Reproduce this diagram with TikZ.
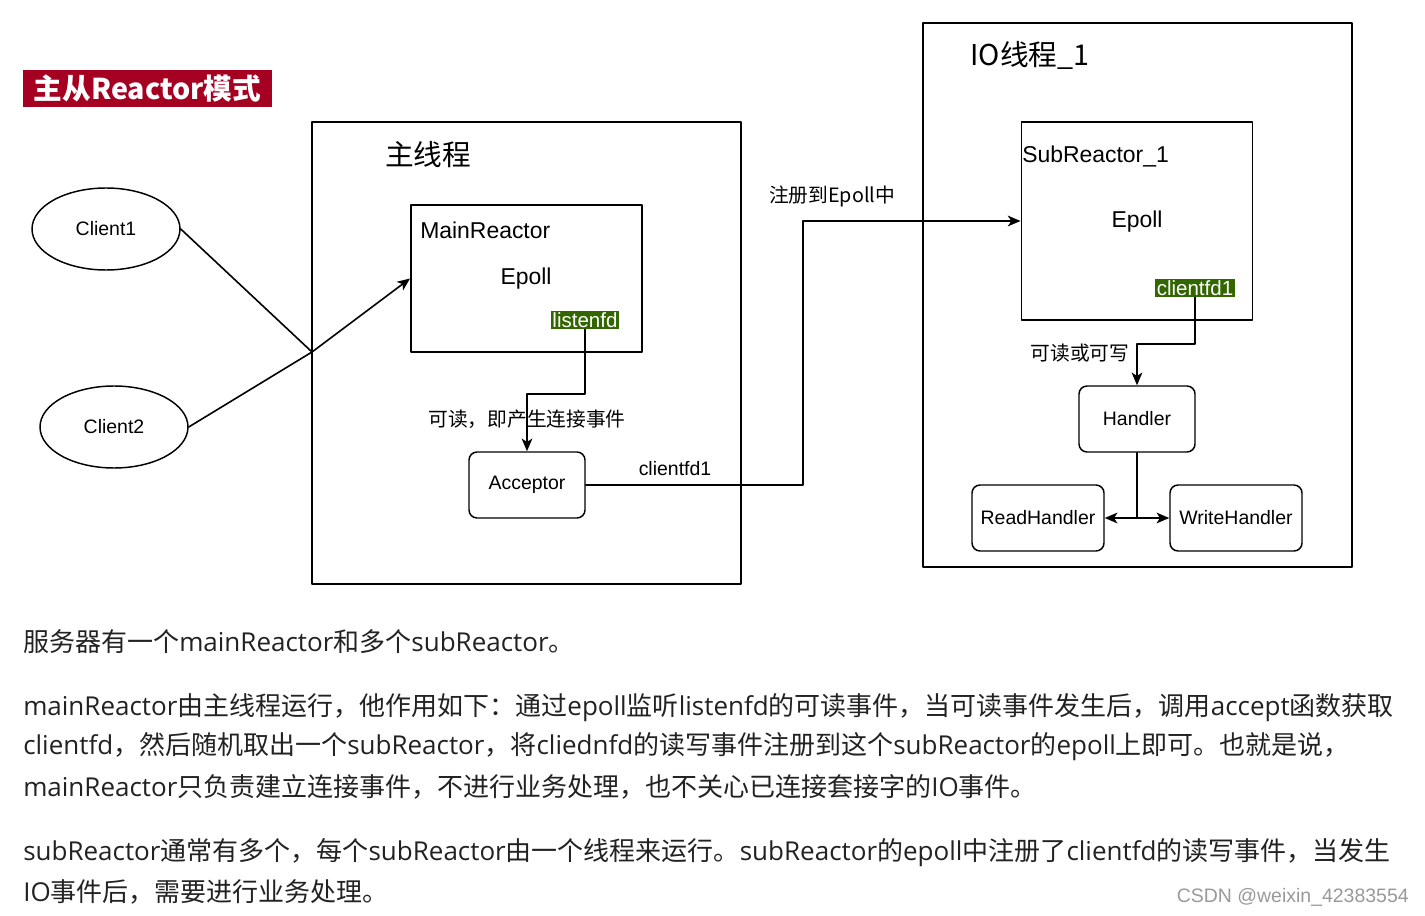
\documentclass[tikz,border=0pt]{standalone}
\usepackage{fontspec}
\setmainfont{Liberation Sans}
\newfontfamily\cjk{Noto Sans CJK SC}
\newfontfamily\latin{Open Sans}
\newcommand\en[1]{{\latin #1}}
\usetikzlibrary{shapes.geometric,arrows.meta}
\definecolor{titlered}{HTML}{A50021}
\definecolor{fdgreen}{HTML}{336600}
\definecolor{bodytext}{HTML}{222222}

\begin{document}
\begin{tikzpicture}[x=0.75pt,y=-0.75pt,>={Stealth[length=9.5pt,width=8pt,inset=2.5pt]}, line join=round, line cap=round,
	font=\fontsize{14.6}{16}\selectfont,
	frame/.style={draw, line width=1.2pt},
	reactor/.style={frame, minimum width=173.5pt, minimum height=#1},
	rbox/.style={draw, line width=1.1pt, rounded corners=6pt, minimum height=49.5pt, minimum width=#1},
	client/.style={draw, line width=1.1pt, ellipse, minimum width=111pt, minimum height=61.5pt},
	fd/.style={fill=fdgreen, text=white, inner sep=1.2pt, font=\fontsize{15.4}{16}\selectfont},
	big/.style={font=\fontsize{17.2}{19}\selectfont},
	zh/.style={font=\cjk\fontsize{14.8}{16}\selectfont},
	zhhead/.style={font=\cjk\fontsize{21.5}{24}\selectfont},
	para/.style={anchor=west, inner sep=0pt, text=bodytext, font=\cjk\fontsize{19.5}{21}\selectfont},
	link/.style={line width=1.2pt}]
	\useasboundingbox (0,0) rectangle (1425,916);
	% title
	\node[fill=titlered, text=white, minimum width=186.75pt, minimum height=24.75pt,
		font=\cjk\fontsize{21.5}{24}\selectfont\bfseries] (title) at (147.5,88.5) {主从Reactor模式};
	% main thread
	\draw[frame] (312,122) rectangle (741,584);
	\node[zhhead] (mainlbl) at (428,155) {主线程};
	\node[reactor=110.25pt] (mainR) at (526.5,278.5) {};
	\node[big, anchor=west, inner sep=0pt] (mainname) at (420,230) {MainReactor};
	\node[big] (mainepoll) at (526,279) {Epoll};
	\node[fd] (lfd) at (585,320) {listenfd};
	\node[rbox=87pt] (acc) at (527,485) {Acceptor};
	% clients
	\node[client] (c1) at (106,229) {Client1};
	\node[client] (c2) at (114,427) {Client2};
	\coordinate (j) at (312,352);
	\draw[link] (c1.east) -- (j);
	\draw[link,->] (c2.east) -- (j) -- (mainR.west);
	% listenfd -> Acceptor
	\coordinate (k1) at (550,394);
	\draw[link,->] (lfd.south) |- (k1) -| (acc.north);
	\node[zh] (readlbl) at (527,419) {可读，即产生连接事件};
	% IO thread
	\draw[frame] (923,23) rectangle (1352,567);
	\node[zhhead] (iolbl) at (1030,55) {IO线程\_1};
	\node[reactor=148.5pt] (subR) at (1137,221) {};
	\node[big, anchor=west, inner sep=0pt] (subname) at (1022,156) {SubReactor\_1};
	\node[big] (subepoll) at (1137,222) {Epoll};
	\node[fd] (cfd) at (1195,288) {clientfd1};
	% Acceptor -> SubReactor
	\coordinate (t1) at (803,350);
	\draw[link,->] (acc.east) -| (t1) |- (subR.west);
	\node (fdlbl) at (675,469) {clientfd1};
	\node[zh] (reglbl) at (832,196) {注册到Epoll中};
	% handlers
	\node[rbox=87pt] (hd) at (1137,419) {Handler};
	\node[rbox=99pt] (rh) at (1038,518) {ReadHandler};
	\node[rbox=99pt] (wh) at (1236,518) {WriteHandler};
	\coordinate (k2) at (1160,344);
	\draw[link,->] (cfd.south) |- (k2) -| (hd.north);
	\node[zh] (rwlbl) at (1080,353) {可读或可写};
	\coordinate (k3) at (1137,518);
	\draw[link] (hd.south) -- (k3);
	\draw[link,->] (k3) -- (rh.east);
	\draw[link,->] (k3) -- (wh.west);
	% text below
	\node[para] (p1) at (23,642) {服务器有一个\en{mainReactor}和多个\en{subReactor}。};
	\node[para] (p2) at (23,708) {\en{mainReactor}由主线程运行，他作用如下：通过\en{epoll}监听\en{listenfd}的可读事件，当可读事件发生后，调用\en{accept}函数获取};
	\node[para] (p3) at (23,747) {\en{clientfd}，然后随机取出一个\en{subReactor}，将\en{cliednfd}的读写事件注册到这个\en{subReactor}的\en{epoll}上即可。也就是说，};
	\node[para] (p4) at (23,787) {\en{mainReactor}只负责建立连接事件，不进行业务处理，也不关心已连接套接字的\en{IO}事件。};
	\node[para] (p5) at (23,853) {\en{subReactor}通常有多个，每个\en{subReactor}由一个线程来运行。\en{subReactor}的\en{epoll}中注册了\en{clientfd}的读写事件，当发生};
	\node[para] (p6) at (23,892) {\en{IO}事件后，需要进行业务处理。};
	\node[anchor=east, inner sep=0pt, text=black!40] (mark) at (1409,897) {CSDN @weixin\_42383554};
\end{tikzpicture}
\end{document}
